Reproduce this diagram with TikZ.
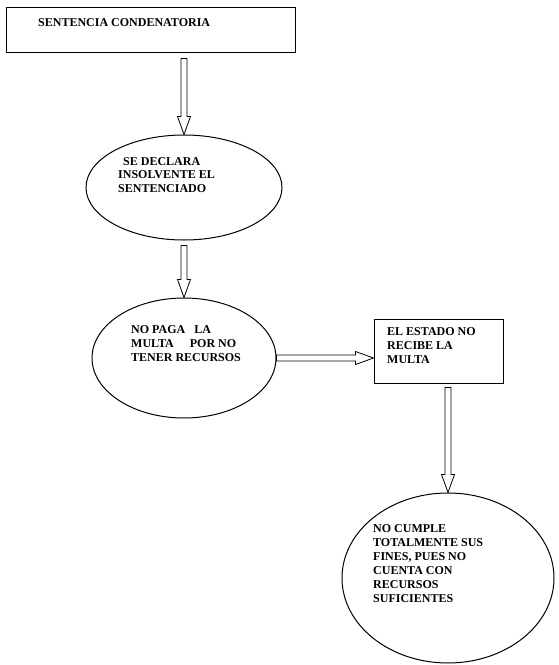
\documentclass[tikz,border=0pt]{standalone}
\usepackage{fontspec}
\setmainfont{Liberation Serif}
\usepackage{tikz}
\usetikzlibrary{calc,shapes.geometric}
\tikzset{
  stepbox/.style={draw,line width=1pt,rectangle,inner sep=0pt},
  stepoval/.style={draw,line width=1pt,ellipse,inner sep=0pt},
  steptext/.style={inner sep=0pt,align=left,anchor=north west,font=\bfseries\fontsize{12}{14}\selectfont},
  arrowline/.style={draw,line width=0.8pt,line join=miter}
}
% hollow double-line arrow from #1 to #2
\newcommand{\fatarrow}[2]{%
  \coordinate (fa-h) at ($(#2)!18pt!(#1)$);
  \draw[arrowline] ($(#1)!3pt!90:(#2)$) -- ($(fa-h)!3pt!-90:(#1)$) -- ($(fa-h)!6.5pt!-90:(#1)$)
    -- (#2) -- ($(fa-h)!6.5pt!90:(#1)$) -- ($(fa-h)!3pt!90:(#1)$) -- ($(#1)!3pt!-90:(#2)$) -- cycle;
}

\begin{document}
\begin{tikzpicture}[x=1pt,y=-1pt]
  \useasboundingbox (0,0) rectangle (558,665);

  % sentencia
  \node[stepbox,minimum width=289pt,minimum height=45pt] (sent) at (150.5,29.5) {};
  \node[steptext,anchor=base west] (sentt) at (38,26) {SENTENCIA CONDENATORIA};

  % insolvente
  \node[stepoval,minimum width=196pt,minimum height=105pt] (decl) at (184,187.5) {};
  \node[steptext,font=\bfseries\fontsize{12}{13.5}\selectfont] (declt) at (118,157)
    {\hspace*{5pt}SE DECLARA\\INSOLVENTE EL\\SENTENCIADO};

  % no paga
  \node[stepoval,minimum width=184pt,minimum height=120pt] (paga) at (184,358) {};
  \node[steptext] (pagat) at (131,325)
    {NO PAGA\hspace*{9pt}LA\\MULTA\hspace*{16pt}POR NO\\TENER RECURSOS};

  % el estado
  \node[stepbox,minimum width=129pt,minimum height=64pt] (estado) at (438.5,351) {};
  \node[steptext] (estadot) at (387,327) {EL ESTADO NO\\RECIBE LA\\MULTA};

  % no cumple
  \node[stepoval,minimum width=212pt,minimum height=170pt] (fines) at (448,578) {};
  \node[steptext] (finest) at (373,524)
    {NO CUMPLE\\TOTALMENTE SUS\\FINES, PUES NO\\CUENTA CON\\RECURSOS\\SUFICIENTES};

  % arrows
  \coordinate (a1) at ($(sent.south -| decl.north)+(0,6)$);
  \coordinate (a2) at ($(decl.south)+(0,5)$);
  \coordinate (a3) at (estado.west |- paga.east);
  \coordinate (a4) at ($(estado.south -| fines.north)+(0,4)$);
  \fatarrow{a1}{decl.north}
  \fatarrow{a2}{paga.north}
  \fatarrow{paga.east}{a3}
  \fatarrow{a4}{fines.north}
\end{tikzpicture}
\end{document}
